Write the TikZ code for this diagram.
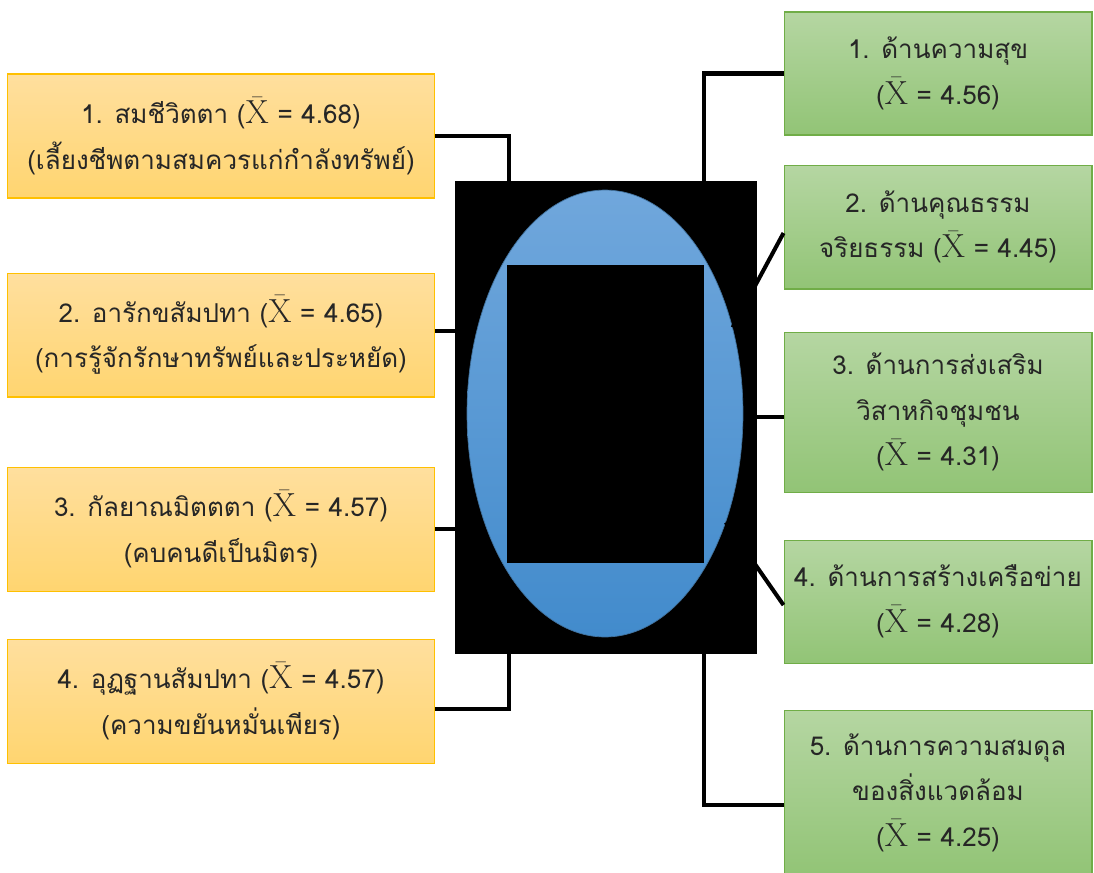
\documentclass[tikz,border=0pt]{standalone}
\usepackage{fontspec}
\newfontfamily\thaifont[Script=Thai]{Loma}
\definecolor{mygoldtop}{RGB}{255,223,158}
\definecolor{mygoldbot}{RGB}{255,213,112}
\definecolor{mygold}{RGB}{255,192,0}
\definecolor{mygreentop}{RGB}{181,214,162}
\definecolor{mygreenbot}{RGB}{146,196,118}
\definecolor{mygreen}{RGB}{112,173,71}
\definecolor{mybluetop}{RGB}{112,167,220}
\definecolor{mybluebot}{RGB}{66,139,204}
\definecolor{myblue}{RGB}{65,113,156}
\definecolor{mytext}{RGB}{38,38,38}
\usetikzlibrary{calc,positioning,shapes.geometric}
\newcommand{\meanx}{{\fontsize{19}{26}\selectfont$\bar{\mathrm{X}}$}}

\begin{document}
\begin{tikzpicture}[
  x=0.02cm, y=-0.02cm,
  myline/.style={draw, line width=2.3pt},
  mybox/.style={
    draw,
    rectangle,
    line width=0.6pt,
    inner sep=0pt,
    align=center,
    text=mytext,
    font=\thaifont\fontsize{14.8}{26}\selectfont
    },
  myleft/.style={
    mybox,
    draw=mygold,
    top color=mygoldtop,
    bottom color=mygoldbot,
    minimum width=8.56cm,
    minimum height=2.48cm
    },
  myright/.style={
    mybox,
    draw=mygreen,
    top color=mygreentop,
    bottom color=mygreenbot,
    minimum width=6.16cm,
    minimum height=#1
    }
]
\useasboundingbox (0,0) rectangle (1094,872);

% left column
\node[myleft] (sam1) at (221,136)
  {1. สมชีวิตตา (\meanx{} = 4.68)\\(เลี้ยงชีพตามสมควรแก่กำลังทรัพย์)};
\node[myleft, below=1.48cm of sam1] (sam2)
  {2. อารักขสัมปทา (\meanx{} = 4.65)\\(การรู้จักรักษาทรัพย์และประหยัด)};
\node[myleft, below=1.38cm of sam2] (sam3)
  {3. กัลยาณมิตตตา (\meanx{} = 4.57)\\(คบคนดีเป็นมิตร)};
\node[myleft, below=0.94cm of sam3] (sam4)
  {4. อุฏฐานสัมปทา (\meanx{} = 4.57)\\(ความขยันหมั่นเพียร)};

% right column
\node[myright=2.46cm] (dan1) at (938,73.5)
  {1. ด้านความสุข\\(\meanx{} = 4.56)};
\node[myright=2.48cm, below=0.58cm of dan1] (dan2)
  {2. ด้านคุณธรรม\\จริยธรรม (\meanx{} = 4.45)};
\node[myright=3.2cm, below=0.84cm of dan2] (dan3)
  {3. ด้านการส่งเสริม\\วิสาหกิจชุมชน\\(\meanx{} = 4.31)};
\node[myright=2.46cm, below=0.94cm of dan3] (dan4)
  {4. ด้านการสร้างเครือข่าย\\(\meanx{} = 4.28)};
\node[myright=3.3cm, below=0.92cm of dan4] (dan5)
  {5. ด้านการความสมดุล\\ของสิ่งแวดล้อม\\(\meanx{} = 4.25)};

% centre
\node[fill=black, inner sep=0pt, minimum width=6.04cm, minimum height=9.46cm] (core) at (606,417.5) {};
\node[ellipse, draw=myblue, line width=0.4pt, top color=mybluetop, bottom color=mybluebot,
  inner sep=0pt, minimum width=5.52cm, minimum height=8.94cm] (oval) at (605,413.5) {};
\node[fill=black, inner sep=0pt, minimum width=3.94cm, minimum height=5.96cm] (hole) at (605.5,414) {};

% connectors
\draw[myline] (sam1.east) -| ($(core.north west)+(54,0)$);
\draw[myline] ([yshift=0.08cm]sam2.east) -- ([yshift=0.08cm]sam2.east -| core.west);
\draw[myline] (sam3.east) -- (sam3.east -| core.west);
\draw[myline] ([yshift=-0.16cm]sam4.east) -| ($(core.south west)+(54,0)$);

\draw[myline] (dan1.west) -| ($(core.north east)+(-53,0)$);
\draw[myline] ([yshift=-0.12cm]dan2.west) -- (oval.34);
\draw[myline] ([yshift=-0.1cm]dan3.west) -- ([yshift=-0.1cm]dan3.west -| core.east);
\draw[myline] ([yshift=-0.07cm]dan4.west) -- (oval.-42);
\draw[myline] ([yshift=-0.24cm]dan5.west) -| ($(core.south east)+(-53,0)$);
\end{tikzpicture}
\end{document}
